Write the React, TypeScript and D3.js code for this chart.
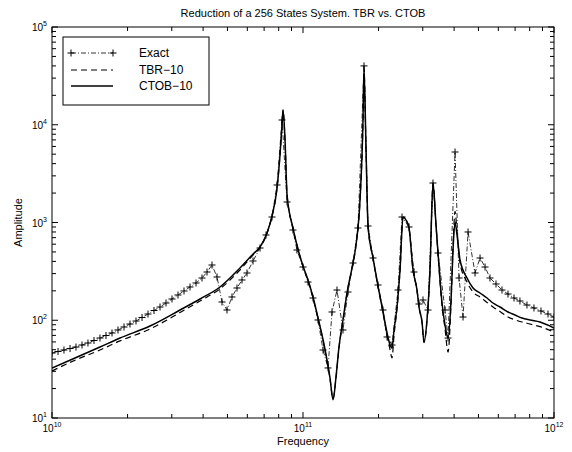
import React from "react";
import * as d3 from "d3";

// Frequencies in GHz, amplitudes
const exactFreqGHz = [10,10.57,11.16,11.8,12.46,13.17,13.91,14.7,15.53,16.41,17.34,18.32,19.36,20.45,21.61,22.84,24.13,25.49,26.94,28.46,30.07,31.77,33.57,35.47,37.48,39.6,41.46,43.4,45.44,47.57,49.8,52.14,54.59,57.15,59.83,63.22,67.42,71.24,75.27,78.81,82.5,86.4,91.2,94.6,100,104.7,109.6,114.8,120.2,125.8,130.5,136.6,144.3,151.1,158.2,165.6,175,181.6,190.1,199,208.4,216.2,226.3,239.1,248,264.5,276.9,289.9,300.7,314.8,329.5,345.1,368,378.3,403.4,418.5,434.1,454.5,484.6,507.4,531.2,555.9,587.4,620.6,655.7,692.9,731.7,780.3,832.1,887.5,946.5,1000];
const exactAmp = [46.2,47.9,49.6,51.4,53.2,55.8,58.5,62.1,65.8,69.8,74.1,79.5,85.3,91.5,98.2,106.7,115.8,125.8,136.6,150.1,165,181.3,199.2,218.9,240.5,270.5,311.6,367.4,277,153.7,127.3,173,213.8,258.1,304.4,403.7,548.3,745,1138,2419,11185,1621,838,523,350.5,246.2,168.9,100.6,49.6,32.5,121.5,203.9,79.5,194.5,385.1,878.7,40000,920.9,433.4,229.4,127.3,67.4,55.8,203.9,1138,899.5,311.6,146.6,161.2,127.3,2535,487.4,127.3,65.8,5262,270.5,107.9,799.5,304.4,433.4,350.5,270.5,234.9,203.9,185.5,168.9,157.4,143.2,133.5,124.3,115.8,107.9];

const ctobFreqGHz = [10,12.35,15.53,18.66,24.57,32.36,38.88,46.7,56.1,63.22,67.42,71.9,75.27,78.81,80.98,82.5,83.26,84.8,86.4,91.2,95.5,100,104.7,109.6,114.8,120.2,124.6,128.1,131.7,135.4,139.1,144.3,149.7,156.7,162.6,168.7,173.4,175,178.3,181.6,190.1,199,208.4,216.2,222.2,226.3,230.5,236.9,243.5,250.3,257.3,264.5,274.4,284.6,289.9,298,303.5,311.9,320.6,329.5,338.8,345.1,358,368,378.3,388.9,396,403.4,410.8,422.3,450.3,475.8,507.4,541.1,571.5,609.4,655.7,699.3,745.3,802.1,879.3,1000];
const ctobAmp = [32.5,41.1,53.2,65.8,87.3,127.3,165,218.9,342.3,476.1,561.6,780.8,1165,2253,4904,9940,14155,6983,1911,878.7,535.8,358.9,258.1,173,105.4,63.2,39.4,25.8,15.4,26.4,53.2,100.6,190,342.3,588.6,1699,11185,38070,5517,920.9,433.4,224,121.5,74.1,55.8,52,79.5,136.6,326.6,1138,1061,878.7,326.6,203.9,136.6,96,59.9,100.6,326.6,2535,942.8,487.4,150.1,89.4,65.8,161.2,523,1012,745,413.3,270.5,213.8,190,168.9,150.1,136.6,121.5,113.2,105.4,100.6,96,83.3];

const tbrFreqGHz = [10,12.35,15.53,18.66,24.57,32.36,38.88,46.7,56.1,63.22,67.42,71.9,75.27,78.81,80.98,82.5,83.26,84.8,86.4,91.2,95.5,100,104.7,109.6,114.8,120.2,124.6,128.1,131.7,135.4,139.1,144.3,149.7,156.7,162.6,168.7,173.4,175,178.3,181.6,190.1,199,208.4,216.2,222.2,226.3,230.5,236.9,243.5,250.3,257.3,264.5,274.4,284.6,289.9,298,303.5,311.9,320.6,329.5,338.8,345.1,358,368,378.3,388.9,396,403.4,410.8,422.3,450.3,475.8,507.4,541.1,571.5,609.4,655.7,699.3,745.3,802.1,879.3,1000];
const tbrAmp = [30.3,39,49.6,61.5,81.4,120,157.4,210,326.6,465,555,775,1160,2250,4900,9900,14100,6950,1900,875,533,357,256,171,104,62,38.5,25.2,15.8,26,52,99,188,340,585,1690,11100,37800,5480,915,430,220,118,70,50,41.1,70,132,320,1130,1055,875,325,203,136,95,59,99,320,2500,935,480,140,82,47.3,150,560,1300,800,385,246,194.5,173,152,136.6,123,107.9,101,96,91.5,86,75.8];

const xMajorExps = [10, 11, 12];
const yMajorExps = [1, 2, 3, 4, 5];

const titleText = "Reduction of a 256 States System.  TBR vs. CTOB";
const xLabelText = "Frequency";
const yLabelText = "Amplitude";
const legendLabels = ["Exact", "TBR\u221210", "CTOB\u221210"];

const W = 572, H = 452;
const L = 52, R = 554, T = 27, B = 418;
const FONT = "'Liberation Sans', Arial, Helvetica, sans-serif";

export default function App() {
  const x = d3.scaleLog().domain([1e10, 1e12]).range([L, R]);
  const y = d3.scaleLog().domain([10, 1e5]).range([B, T]);

  const toPts = (fs: number[], as: number[]) => fs.map((f, i) => [f * 1e9, as[i]] as [number, number]);
  const exact = toPts(exactFreqGHz, exactAmp);
  const ctob = toPts(ctobFreqGHz, ctobAmp);
  const tbr = toPts(tbrFreqGHz, tbrAmp);

  const smooth = d3.line<[number, number]>().x(d => x(d[0])).y(d => y(d[1])).curve(d3.curveMonotoneX);
  const straight = d3.line<[number, number]>().x(d => x(d[0])).y(d => y(d[1]));

  const xMinor: number[] = [];
  for (let e = 10; e < 12; e++) for (let k = 2; k <= 9; k++) xMinor.push(k * Math.pow(10, e));
  const yMinor: number[] = [];
  for (let e = 1; e < 5; e++) for (let k = 2; k <= 9; k++) yMinor.push(k * Math.pow(10, e));

  const major = 6, minor = 4;
  const plus = (cx: number, cy: number, key: string | number, s = 3.5) => (
    <path key={key} d={`M${cx - s},${cy}H${cx + s}M${cx},${cy - s}V${cy + s}`} stroke="#000" strokeWidth={1} fill="none" />
  );

  return (
    <svg width={W} height={H} style={{ position: "absolute", left: 0, top: 0, background: "#fff" }} fontFamily={FONT}>
      <rect x={0} y={0} width={W} height={H} fill="#fff" />
      <defs>
        <clipPath id="plotclip"><rect x={L} y={T} width={R - L} height={B - T} /></clipPath>
      </defs>
      {/* frame */}
      <rect x={L} y={T} width={R - L} height={B - T} fill="none" stroke="#000" strokeWidth={1} />
      {/* x ticks */}
      {xMajorExps.map(e => {
        const px = x(Math.pow(10, e));
        return (
          <g key={"xm" + e}>
            <line x1={px} x2={px} y1={B} y2={B - major} stroke="#000" />
            <line x1={px} x2={px} y1={T} y2={T + major} stroke="#000" />
            <text x={px} y={432} textAnchor="middle" fontSize={10}>
              10<tspan dy={-5} fontSize={7}>{e}</tspan>
            </text>
          </g>
        );
      })}
      {xMinor.map((v, i) => {
        const px = x(v);
        return (
          <g key={"xn" + i}>
            <line x1={px} x2={px} y1={B} y2={B - minor} stroke="#000" />
            <line x1={px} x2={px} y1={T} y2={T + minor} stroke="#000" />
          </g>
        );
      })}
      {/* y ticks */}
      {yMajorExps.map(e => {
        const py = y(Math.pow(10, e));
        return (
          <g key={"ym" + e}>
            <line x1={L} x2={L + major} y1={py} y2={py} stroke="#000" />
            <line x1={R} x2={R - major} y1={py} y2={py} stroke="#000" />
            <text x={47} y={py + 4} textAnchor="end" fontSize={10}>
              10<tspan dy={-5} fontSize={7}>{e}</tspan>
            </text>
          </g>
        );
      })}
      {yMinor.map((v, i) => {
        const py = y(v);
        return (
          <g key={"yn" + i}>
            <line x1={L} x2={L + minor} y1={py} y2={py} stroke="#000" />
            <line x1={R} x2={R - minor} y1={py} y2={py} stroke="#000" />
          </g>
        );
      })}
      {/* series */}
      <g clipPath="url(#plotclip)">
        <path d={smooth(tbr) || ""} fill="none" stroke="#000" strokeWidth={1.2} strokeDasharray="6,4" />
        <path d={smooth(ctob) || ""} fill="none" stroke="#000" strokeWidth={1.5} />
        <path d={straight(exact) || ""} fill="none" stroke="#000" strokeWidth={0.8} strokeDasharray="5,2,1,2" />
        {exact.map((d, i) => plus(x(d[0]), y(d[1]), "p" + i))}
      </g>
      {/* legend */}
      <rect x={63} y={37} width={146} height={68} fill="#fff" stroke="#000" strokeWidth={1} />
      <line x1={71} x2={113} y1={53} y2={53} stroke="#000" strokeWidth={0.8} strokeDasharray="5,2,1,2" />
      {plus(71, 53, "lp1")}
      {plus(113, 53, "lp2")}
      <line x1={71} x2={113} y1={70} y2={70} stroke="#000" strokeWidth={1.2} strokeDasharray="6,4" />
      <line x1={71} x2={113} y1={86} y2={86} stroke="#000" strokeWidth={1.5} />
      {legendLabels.map((t, i) => (
        <text key={t} x={139} y={57 + i * 16.5} fontSize={12}>{t}</text>
      ))}
      {/* title and labels */}
      <text x={(L + R) / 2} y={17} textAnchor="middle" fontSize={11}>{titleText}</text>
      <text x={(L + R) / 2} y={445} textAnchor="middle" fontSize={11}>{xLabelText}</text>
      <text transform={`translate(22,${(T + B) / 2}) rotate(-90)`} textAnchor="middle" fontSize={11}>{yLabelText}</text>
    </svg>
  );
}
